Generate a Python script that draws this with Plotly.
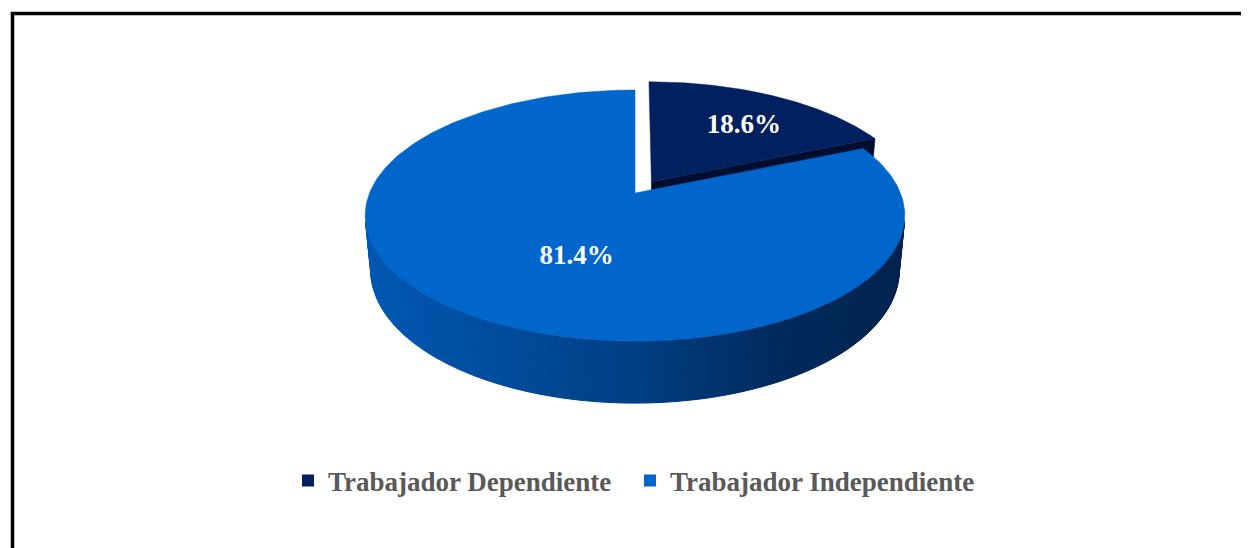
import numpy as np
import plotly.graph_objects as go

# ---------------- data ----------------
categories = ["Trabajador Dependiente", "Trabajador Independiente"]
values = [18.6, 81.4]
label_texts = ["18.6%", "81.4%"]
top_colors = ["#002060", "#0066CC"]
face_colors = ["#000d2e", "#003070"]
explode = [0.114, 0.0]

# ---------------- geometry / style (layout constants) ----------------
W, Hpx = 1249, 548
OX, OY = 8, 8                  # page offset of the plot div (body margin)
CX, CY = 635.0, 193.0          # projected centre of the pie (page px)
L = 4.98                       # camera distance
H = 0.45 * L                   # camera height
D = np.sqrt(L**2 - H**2)
S = L**2
FX, FY = 1322.0, 1345.0
T = 0.229                      # thickness of the pie
label_r = [0.68, 0.56]
label_dx = [5.0, 31.0]
label_dy = [5.0, 2.0]
legend_left = [288, 630]       # page x of each legend box
legend_y = 481


def project(x, y, z):
    den = S - y * H + z * D
    X = CX + FX * x * L / den
    Y = CY - FY * (y * D + z * H) / den
    return X, Y


def world(i, r, theta, y, mids):
    phi = mids[i]
    e = explode[i]
    x = e * np.sin(phi) + r * np.sin(theta)
    z = e * np.cos(phi) + r * np.cos(theta)
    return x, y, z


total = sum(values)
fr = [v / total for v in values]
starts = np.concatenate([[0.0], np.cumsum(fr)[:-1]]) * 2 * np.pi
ends = np.cumsum(fr) * 2 * np.pi
mids = (starts + ends) / 2

fig = go.Figure()


def poly(xs, ys, color, lw=0.0):
    fig.add_trace(go.Scatter(
        x=list(xs) + [xs[0]], y=list(ys) + [ys[0]], mode="lines", fill="toself",
        fillcolor=color, line=dict(color=color, width=lw),
        hoverinfo="skip", showlegend=False))


def radial_face(i, theta):
    pts = [world(i, 0, theta, 0, mids), world(i, 1, theta, 0, mids),
           world(i, 1, theta, -T, mids), world(i, 0, theta, -T, mids)]
    P = [project(*p) for p in pts]
    poly([p[0] for p in P], [p[1] for p in P], face_colors[i], 0.5)


def top_face(i):
    th = np.linspace(starts[i], ends[i], 200)
    xs, ys = [], []
    X0, Y0 = project(*world(i, 0, 0, 0, mids))
    xs.append(X0); ys.append(Y0)
    for t in th:
        X, Y = project(*world(i, 1, t, 0, mids))
        xs.append(X); ys.append(Y)
    poly(xs, ys, top_colors[i], 0.5)


stops_x = [365, 500, 640, 780, 905]
stops_c = [(0, 88, 178), (0, 76, 156), (0, 62, 130), (0, 42, 92), (0, 34, 78)]


def wall_color(X):
    c = [int(round(np.interp(X, stops_x, [s[k] for s in stops_c]))) for k in range(3)]
    return "rgb(%d,%d,%d)" % tuple(c)


def outer_wall(i):
    ts = np.arccos(-1.0 / D)
    a = max(starts[i], ts)
    b = min(ends[i], 2 * np.pi - ts)
    if b <= a:
        return
    th = np.linspace(a, b, 140)
    for k in range(len(th) - 1):
        t0, t1 = th[k], th[k + 1]
        p = [project(*world(i, 1, t0, 0, mids)), project(*world(i, 1, t1, 0, mids)),
             project(*world(i, 1, t1, -T, mids)), project(*world(i, 1, t0, -T, mids))]
        xm = np.mean([q[0] for q in p])
        poly([q[0] for q in p], [q[1] for q in p], wall_color(xm), 1.0)


# slice 0 (exploded, at the back): visible radial face, then top
radial_face(0, ends[0])
outer_wall(0)
top_face(0)
# slice 1: front wall then top
outer_wall(1)
top_face(1)

# labels
lx, ly = [], []
for i in range(len(values)):
    X, Y = project(*world(i, label_r[i], mids[i], 0, mids))
    lx.append(X + label_dx[i]); ly.append(Y + label_dy[i])
fig.add_trace(go.Scatter(
    x=lx, y=ly, mode="text", text=label_texts,
    textfont=dict(family="Liberation Serif", size=27, color="white", weight="bold"),
    hoverinfo="skip", showlegend=False))

# legend entries (one legend box per entry)
legend_font = dict(family="Liberation Serif", size=27, color="#595959", weight="bold")
legend_names = ["legend", "legend2"]
for c, col, lg in zip(categories, top_colors, legend_names):
    fig.add_trace(go.Scatter(
        x=[None], y=[None], mode="markers", name=c, legend=lg,
        marker=dict(symbol="square", size=12, color=col)))

# frame lines (top and left)
fig.add_shape(type="line", xref="x", yref="y", x0=12.5, y0=Hpx + 20, x1=12.5, y1=13.5,
              line=dict(color="black", width=3.5))
fig.add_shape(type="line", xref="x", yref="y", x0=10.75, y0=13.5, x1=W + 20, y1=13.5,
              line=dict(color="black", width=3.5))

legends = {}
for lg, xl in zip(legend_names, legend_left):
    legends[lg] = dict(
        orientation="h", x=(xl - OX) / W, xanchor="left",
        y=1 - (legend_y - OY) / Hpx, yanchor="middle",
        font=legend_font, itemsizing="trace", bgcolor="rgba(0,0,0,0)",
    )

fig.update_layout(
    width=W, height=Hpx,
    margin=dict(l=0, r=0, t=0, b=0),
    paper_bgcolor="white", plot_bgcolor="white",
    xaxis=dict(range=[OX, W + OX], visible=False, fixedrange=True),
    yaxis=dict(range=[Hpx + OY, OY], visible=False, fixedrange=True),
    showlegend=True,
    **legends,
)

fig.write_html("out.html")
